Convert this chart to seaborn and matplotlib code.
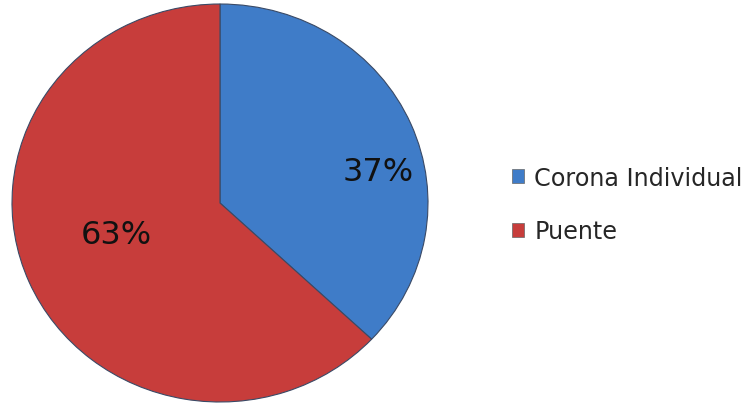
import matplotlib
matplotlib.use("Agg")
import matplotlib.pyplot as plt
import seaborn as sns

categories = ["Corona Individual", "Puente"]
values = [37, 63]
colors = ["#3f7cc8", "#c73d3b"]

sns.set_theme(style="white")
plt.rcParams['font.family'] = ['DejaVu Sans']

W, H = 753, 406
fig = plt.figure(figsize=(W / 100, H / 100), dpi=100)
fig.patch.set_facecolor("white")
# pie region in pixels: x 12..428, y 5..403 (top-down)
ax = fig.add_axes([12 / W, (H - 403) / H, 416 / W, 398 / H])
wedges, texts, autotexts = ax.pie(
    values, colors=colors, startangle=90, counterclock=False,
    autopct=lambda p: f"{p:.0f}%", radius=1,
    wedgeprops=dict(edgecolor="#3a4a66", linewidth=0.8),
    textprops=dict(fontsize=23, color="#111111"),
)
ax.set_aspect("auto")
ax.set_xlim(-1, 1)
ax.set_ylim(-1, 1)
autotexts[0].set_position((0.76, 0.16))
autotexts[1].set_position((-0.5, -0.16))
for t in autotexts:
    t.set_ha("center")
    t.set_va("center")

leg = fig.legend(wedges, categories, loc="upper left",
                 bbox_to_anchor=(502 / W, 1 - 157 / H),
                 frameon=False, fontsize=17.2, handlelength=0.5, handleheight=0.5,
                 handletextpad=0.45, labelspacing=1.25, borderaxespad=0)
for h in leg.legend_handles:
    h.set_edgecolor("#666666")
    h.set_linewidth(0.5)

fig.savefig("out.png", dpi=100)
